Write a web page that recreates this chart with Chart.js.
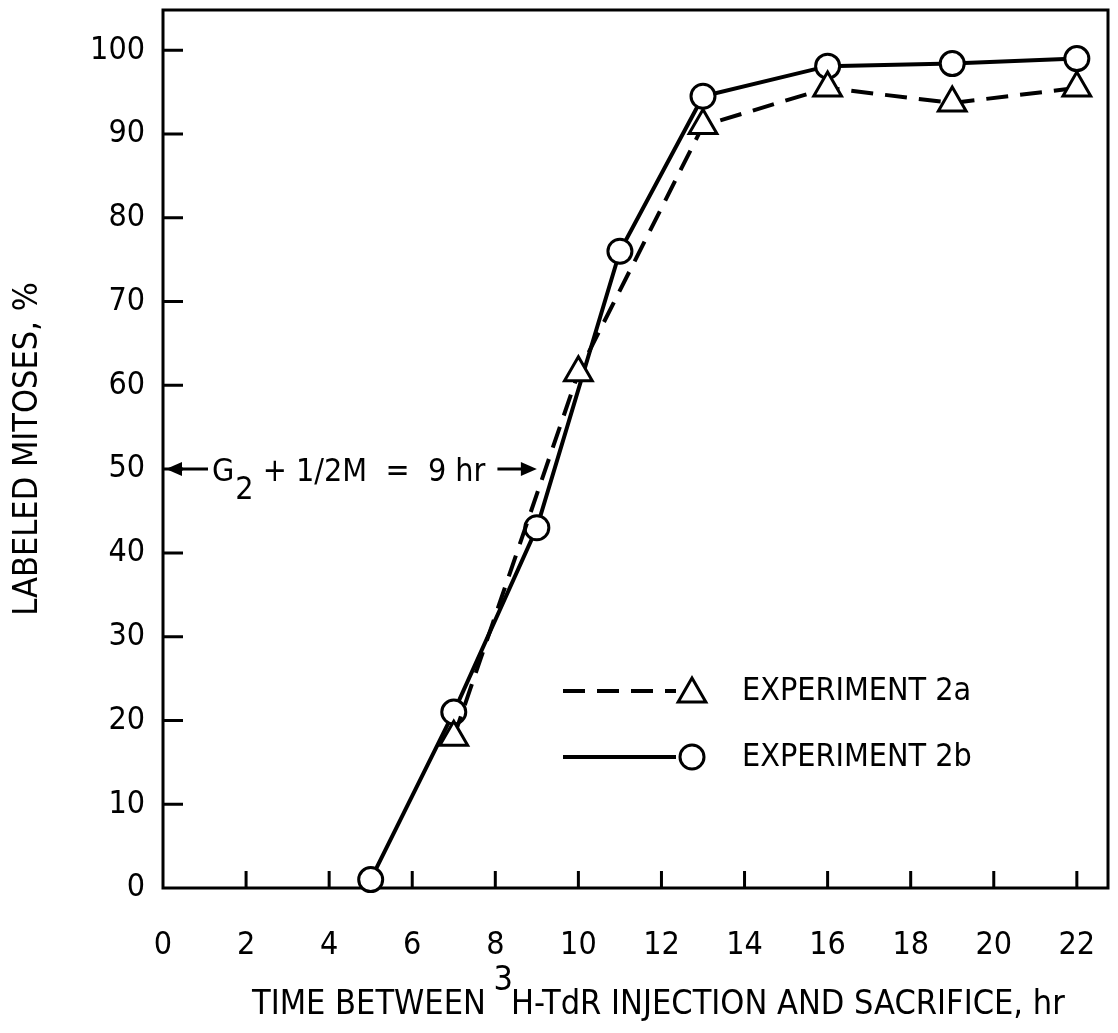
<!DOCTYPE html>
<html>
<head>
<meta charset="utf-8">
<script src="https://cdn.jsdelivr.net/npm/chart.js@4.4.1/dist/chart.umd.min.js"></script>
<style>
  html, body { margin: 0; padding: 0; background: #fff; }
  #wrap { width: 1118px; height: 1033px; }
</style>
</head>
<body>
<div id="wrap"><canvas id="chart" width="1118" height="1033"></canvas></div>
<script>
// values (hours after injection, % labeled mitoses)
const hours2a = [7, 10, 13, 16, 19, 22];
const labeled2a = [18, 61.5, 91, 95.5, 93.7, 95.5];
const hours2b = [5, 7, 9, 11, 13, 16, 19, 22];
const labeled2b = [1, 21, 43, 76, 94.5, 98.1, 98.4, 99];
const seriesNames = ["EXPERIMENT 2a", "EXPERIMENT 2b"];
const xTickValues = [0, 2, 4, 6, 8, 10, 12, 14, 16, 18, 20, 22];
const yTickValues = [0, 10, 20, 30, 40, 50, 60, 70, 80, 90, 100];
const yTitle = "LABELED MITOSES, %";
const xTitleParts = ["TIME BETWEEN ", "3", "H-TdR INJECTION AND SACRIFICE, hr"];
const noteParts = ["G", "2", " + 1/2M  =  9 hr"];
const noteFrom = 0, noteTo = 9, noteLevel = 50;

const FONT = '"Liberation Sans Narrow", "DejaVu Sans Condensed", "Roboto Condensed", sans-serif';

function toPoints(xs, ys) {
  return xs.map((x, i) => ({ x, y: ys[i] }));
}

function arrowHead(ctx, x, y, dir) {
  ctx.beginPath();
  ctx.moveTo(x, y);
  ctx.lineTo(x - dir * 16, y - 7);
  ctx.lineTo(x - dir * 16, y + 7);
  ctx.closePath();
  ctx.fill();
}

const paperPlugin = {
  id: "paper",
  beforeDatasetsDraw(chart) {
    const { ctx, chartArea: a, scales: { x, y } } = chart;
    ctx.save();
    ctx.strokeStyle = "#000";
    ctx.lineWidth = 3;
    ctx.strokeRect(a.left, a.top, a.right - a.left, a.bottom - a.top);
    ctx.beginPath();
    x.ticks.forEach(t => {
      if (t.value === 0) return;
      const px = x.getPixelForValue(t.value);
      ctx.moveTo(px, a.bottom);
      ctx.lineTo(px, a.bottom - 17);
    });
    y.ticks.forEach(t => {
      if (t.value === 0) return;
      const py = y.getPixelForValue(t.value);
      ctx.moveTo(a.left, py);
      ctx.lineTo(a.left + 20, py);
    });
    ctx.stroke();
    ctx.restore();
  },
  afterDraw(chart) {
    const { ctx, scales: { x, y } } = chart;
    ctx.save();
    ctx.fillStyle = "#000";
    ctx.strokeStyle = "#000";
    ctx.textBaseline = "alphabetic";
    ctx.font = "32px " + FONT;

    // G2 + 1/2M annotation with arrows
    const ny = y.getPixelForValue(noteLevel);
    const x0 = x.getPixelForValue(noteFrom) + 3;
    const x9 = x.getPixelForValue(noteTo);
    let tx = x0 + 46;
    const base = ny + 12;
    ctx.fillText(noteParts[0], tx, base);
    tx += ctx.measureText(noteParts[0]).width + 1;
    ctx.fillText(noteParts[1], tx, base + 18);
    tx += ctx.measureText(noteParts[1]).width;
    ctx.fillText(noteParts[2], tx, base);
    tx += ctx.measureText(noteParts[2]).width;
    ctx.lineWidth = 3;
    ctx.beginPath();
    ctx.moveTo(x0 + 10, ny); ctx.lineTo(x0 + 42, ny);
    ctx.moveTo(tx + 12, ny); ctx.lineTo(x9 - 10, ny);
    ctx.stroke();
    arrowHead(ctx, x0, ny, -1);
    arrowHead(ctx, x9, ny, 1);

    // legend
    const rows = [
      { y: 691, dash: [22, 12], style: "triangle", r: 16 },
      { y: 757, dash: [], style: "circle", r: 12 }
    ];
    rows.forEach((row, i) => {
      ctx.lineWidth = 4;
      ctx.setLineDash(row.dash);
      ctx.beginPath();
      ctx.moveTo(563, row.y);
      ctx.lineTo(676, row.y);
      ctx.stroke();
      ctx.setLineDash([]);
      ctx.lineWidth = 3;
      ctx.fillStyle = "#fff";
      Chart.helpers.drawPoint(ctx, { pointStyle: row.style, radius: row.r, borderWidth: 3 }, 692, row.y + (row.style === "triangle" ? 3 : 0));
      ctx.fillStyle = "#000";
      ctx.textBaseline = "middle";
      ctx.fillText(seriesNames[i], 742, row.y + 1);
    });

    // x axis title with superscript
    ctx.font = "34px " + FONT;
    ctx.textBaseline = "alphabetic";
    const w0 = ctx.measureText(xTitleParts[0]).width;
    const w1 = ctx.measureText(xTitleParts[1]).width;
    let sx = 252;
    const ty = 1014;
    ctx.fillText(xTitleParts[0], sx, ty);
    sx += w0 - 2;
    ctx.fillText(xTitleParts[1], sx, ty - 24);
    sx += w1 - 2;
    ctx.fillText(xTitleParts[2], sx, ty);
    ctx.restore();
  }
};

new Chart(document.getElementById("chart"), {
  type: "line",
  data: {
    datasets: [
      {
        label: seriesNames[0],
        data: toPoints(hours2a, labeled2a),
        borderColor: "#000",
        backgroundColor: "#fff",
        borderWidth: 4,
        borderDash: [22, 12],
        pointStyle: "triangle",
        pointRadius: 16,
        pointHoverRadius: 16,
        pointBorderWidth: 3,
        pointBackgroundColor: "#fff",
        pointBorderColor: "#000",
        tension: 0,
        clip: false
      },
      {
        label: seriesNames[1],
        data: toPoints(hours2b, labeled2b),
        borderColor: "#000",
        backgroundColor: "#fff",
        borderWidth: 4,
        pointStyle: "circle",
        pointRadius: 12,
        pointHoverRadius: 12,
        pointBorderWidth: 3,
        pointBackgroundColor: "#fff",
        pointBorderColor: "#000",
        tension: 0,
        clip: false
      }
    ]
  },
  options: {
    responsive: false,
    animation: false,
    devicePixelRatio: 1,
    events: [],
    layout: { autoPadding: false, padding: { top: 10, right: 10, left: 0, bottom: 0 } },
    plugins: { legend: { display: false }, tooltip: { enabled: false } },
    scales: {
      x: {
        type: "linear",
        min: 0,
        max: 22.75,
        afterBuildTicks: s => { s.ticks = xTickValues.map(v => ({ value: v })); },
        afterFit: s => {
          s.height = 145;
          s.paddingLeft = 0; s.paddingRight = 0;
        },
        grid: { display: false, drawTicks: false },
        border: { display: false },
        ticks: { color: "#000", padding: 38, font: { family: FONT, size: 32 }, maxRotation: 0 }
      },
      y: {
        min: 0,
        max: 104.8,
        afterBuildTicks: s => { s.ticks = yTickValues.map(v => ({ value: v })); },
        afterFit: s => {
          s.width = 163;
          s.paddingTop = 0; s.paddingBottom = 0;
        },
        grid: { display: false, drawTicks: false },
        border: { display: false },
        ticks: { color: "#000", padding: 18, font: { family: FONT, size: 32 } },
        title: { display: true, text: yTitle, color: "#000", font: { family: FONT, size: 34 }, padding: { top: 8, bottom: 0 } }
      }
    }
  },
  plugins: [paperPlugin]
});
</script>
</body>
</html>
